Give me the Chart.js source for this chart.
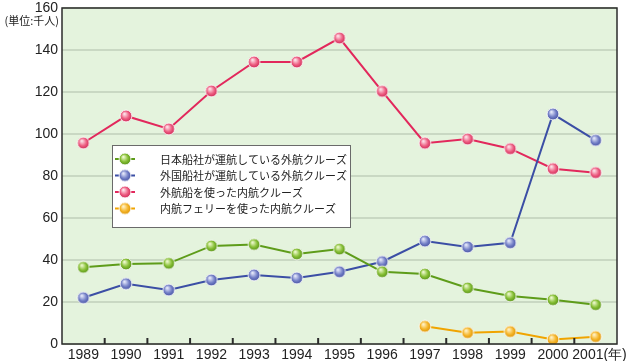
<!DOCTYPE html>
<html lang="ja">
<head>
<meta charset="utf-8">
<script src="https://cdn.jsdelivr.net/npm/chart.js@4.4.1/dist/chart.umd.min.js"></script>
<style>
  html, body { margin: 0; padding: 0; background: #fff; }
  #wrap { width: 630px; height: 361px; position: relative; }
</style>
</head>
<body>
<div id="wrap"><canvas id="chart"></canvas></div>
<script>
// データ
const years = ["1989", "1990", "1991", "1992", "1993", "1994", "1995", "1996", "1997", "1998", "1999", "2000", "2001(年)"];
const nihonSensha = [36.5, 38.1, 38.4, 46.7, 47.4, 42.9, 45.2, 34.4, 33.3, 26.7, 22.9, 21.1, 18.7];
const gaikokuSensha = [22.0, 28.7, 25.7, 30.5, 32.9, 31.4, 34.4, 39.2, 49.0, 46.2, 48.2, 109.5, 97.0];
const gaikosen = [95.7, 108.6, 102.4, 120.5, 134.3, 134.3, 145.7, 120.3, 95.6, 97.6, 93.0, 83.5, 81.6];
const ferry = [null, null, null, null, null, null, null, null, 8.4, 5.4, 5.9, 2.2, 3.5];
const yTicks = [0, 20, 40, 60, 80, 100, 120, 140, 160];

const labels = [
  "日本船社が運航している外航クルーズ",
  "外国船社が運航している外航クルーズ",
  "外航船を使った内航クルーズ",
  "内航フェリーを使った内航クルーズ",
];

const JP = '"Noto Sans CJK JP", "Liberation Sans", sans-serif';
const NUM = '"Liberation Sans", Arial, sans-serif';

// 玉のマーカー
const makeBall = (base, light, dark) => {
  const c = document.createElement("canvas");
  c.width = 14;
  c.height = 14;
  const g = c.getContext("2d");
  const grad = g.createRadialGradient(5.3, 4.8, 0.5, 7, 7, 6.5);
  grad.addColorStop(0, light);
  grad.addColorStop(0.55, base);
  grad.addColorStop(1, dark);
  g.beginPath();
  g.arc(7, 7, 5.9, 0, Math.PI * 2);
  g.fillStyle = grad;
  g.fill();
  g.lineWidth = 1;
  g.strokeStyle = "rgba(255,255,255,0.85)";
  g.stroke();
  return c;
};

const series = [
  { data: nihonSensha, line: "#5e9c1a", ball: makeBall("#86bf34", "#eef9cf", "#4f8a14") },
  { data: gaikokuSensha, line: "#3b4ea5", ball: makeBall("#7581c8", "#e6e9fb", "#3d4a9c") },
  { data: gaikosen, line: "#e2285c", ball: makeBall("#ee5f83", "#fde3ea", "#c8204f") },
  { data: ferry, line: "#f0a400", ball: makeBall("#f6b62a", "#fff2c8", "#d58d00") },
];

const framePlugin = {
  id: "frame",
  beforeDraw(chart) {
    const { ctx, chartArea: a } = chart;
    ctx.save();
    ctx.fillStyle = "#e4f3dd";
    ctx.fillRect(a.left, a.top, a.right - a.left, a.bottom - a.top);
    ctx.restore();
  },
  afterDatasetsDraw(chart) {
    const { ctx, chartArea: a, scales } = chart;
    ctx.save();
    // 枠
    ctx.strokeStyle = "#2b2b2b";
    ctx.lineWidth = 1.5;
    ctx.strokeRect(a.left, a.top, a.right - a.left, a.bottom - a.top);
    // 目盛り（区切り）
    const x = scales.x;
    ctx.lineWidth = 2;
    for (let i = 0; i < years.length - 1; i++) {
      const px = (x.getPixelForValue(i) + x.getPixelForValue(i + 1)) / 2;
      ctx.beginPath();
      ctx.moveTo(px, a.bottom);
      ctx.lineTo(px, a.bottom - 6);
      ctx.stroke();
    }
    // 単位
    ctx.fillStyle = "#222";
    ctx.font = "11px " + JP;
    ctx.textAlign = "right";
    ctx.textBaseline = "middle";
    ctx.fillText("(単位:千人)", 59, 21);

    // 凡例
    const bx = 112, by = 145, bw = 238, bh = 82;
    ctx.fillStyle = "#ffffff";
    ctx.fillRect(bx, by, bw, bh);
    ctx.strokeStyle = "#6a6a6a";
    ctx.lineWidth = 1;
    ctx.strokeRect(bx + 0.5, by + 0.5, bw, bh);
    series.forEach((s, i) => {
      const cy = 159 + i * 16.5;
      ctx.strokeStyle = s.line;
      ctx.lineWidth = 2;
      ctx.beginPath();
      ctx.moveTo(115, cy);
      ctx.lineTo(135, cy);
      ctx.stroke();
      ctx.drawImage(s.ball, 125 - 7, cy - 7);
      ctx.fillStyle = "#222";
      ctx.font = "11px " + JP;
      ctx.textAlign = "left";
      ctx.fillText(labels[i], 160, cy + 0.5);
    });
    ctx.restore();
  },
};

new Chart(document.getElementById("chart"), {
  type: "line",
  data: {
    labels: years,
    datasets: series.map((s, i) => ({
      label: labels[i],
      data: s.data,
      borderColor: s.line,
      borderWidth: 2,
      tension: 0,
      fill: false,
      spanGaps: false,
      pointStyle: s.ball,
      pointRadius: 6,
    })),
  },
  options: {
    responsive: true,
    maintainAspectRatio: false,
    animation: false,
    layout: { padding: { top: 0, right: 13, left: 0, bottom: 0 } },
    plugins: {
      legend: { display: false },
      tooltip: { enabled: false },
    },
    scales: {
      x: {
        offset: true,
        grid: { display: false, drawTicks: false },
        border: { display: false },
        ticks: {
          color: "#222",
          font: { size: 14, family: NUM },
          padding: 3,
          maxRotation: 0,
          autoSkip: false,
          // 最後のラベルは少し右に寄せる
          callback: (v, i) => (i === years.length - 1 ? "  " + years[i] : years[i]),
        },
        afterFit: (s) => {
          s.height = 17;
          s.paddingLeft = 0;
          s.paddingRight = 0;
        },
      },
      y: {
        min: 0,
        max: 160,
        afterBuildTicks: (s) => { s.ticks = yTicks.map((v) => ({ value: v })); },
        grid: { color: "#c9d8c3", lineWidth: 2, drawTicks: false },
        border: { display: false },
        ticks: {
          color: "#222",
          font: { size: 14, family: NUM },
          padding: 4,
        },
        afterFit: (s) => {
          s.width = 62;
          s.paddingTop = 8;
          s.paddingBottom = 0;
        },
      },
    },
  },
  plugins: [framePlugin],
});
</script>
</body>
</html>
